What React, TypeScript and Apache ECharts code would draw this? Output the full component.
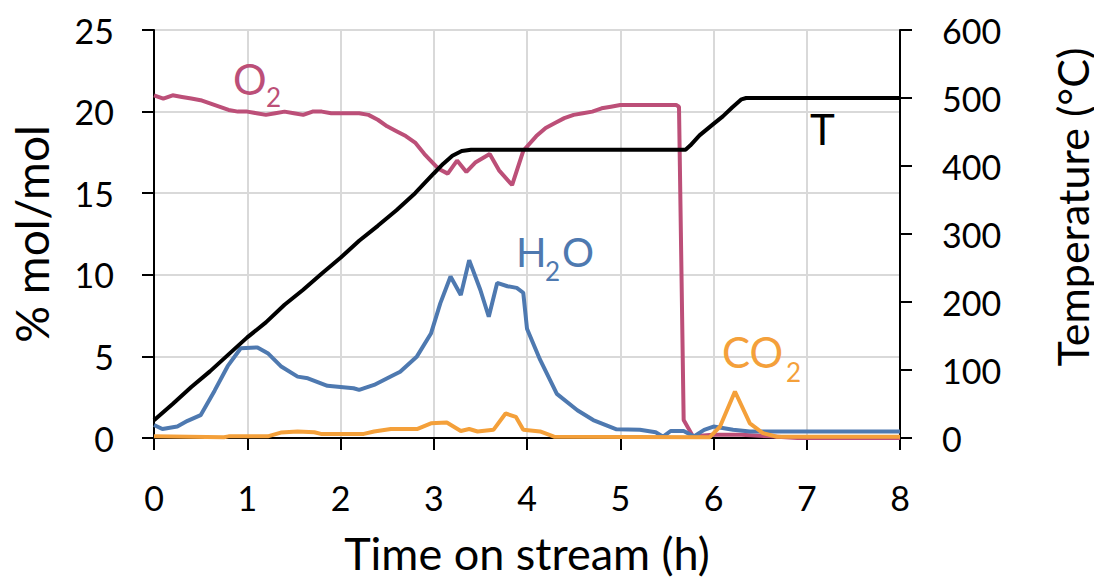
import React, { useEffect, useRef } from "react";
import * as echarts from "echarts";

// Time axis ticks (h)
const xTicks = [0, 1, 2, 3, 4, 5, 6, 7, 8];

// Temperature T (°C, right axis)
const tTemp = [0, 0.2, 0.4, 0.6, 0.8, 1.0, 1.2, 1.4, 1.6, 1.8, 2.0, 2.2, 2.4, 2.6, 2.8, 3.0, 3.1, 3.2, 3.3, 3.4, 5.7, 5.75, 5.85, 6.0, 6.1, 6.2, 6.3, 6.35, 8.0];
const tempVals = [26, 50, 75, 98, 123, 148, 170, 196, 218, 242, 265, 290, 312, 335, 360, 389, 403, 415, 422, 424, 424, 430, 445, 462, 473, 486, 498, 500, 500];

// O2 (% mol/mol)
const tO2 = [0, 0.1, 0.2, 0.3, 0.4, 0.5, 0.6, 0.7, 0.8, 0.9, 1.0, 1.1, 1.2, 1.3, 1.4, 1.5, 1.6, 1.7, 1.8, 1.9, 2.0, 2.1, 2.2, 2.3, 2.4, 2.5, 2.6, 2.7, 2.8, 2.9, 3.0, 3.05, 3.15, 3.25, 3.35, 3.45, 3.6, 3.7, 3.84, 3.96, 4.1, 4.2, 4.3, 4.4, 4.5, 4.6, 4.7, 4.8, 4.9, 5.0, 5.6, 5.63, 5.68, 5.78, 6.0, 6.3, 6.6, 6.9, 8.0];
const o2Vals = [21.0, 20.8, 21.0, 20.9, 20.8, 20.7, 20.5, 20.3, 20.1, 20.0, 20.0, 19.9, 19.8, 19.9, 20.0, 19.9, 19.8, 20.0, 20.0, 19.9, 19.9, 19.9, 19.9, 19.8, 19.5, 19.1, 18.8, 18.5, 18.1, 17.4, 16.8, 16.5, 16.2, 17.0, 16.3, 16.9, 17.4, 16.4, 15.5, 17.6, 18.5, 19.0, 19.3, 19.6, 19.8, 19.9, 20.0, 20.2, 20.3, 20.4, 20.4, 20.3, 1.1, 0.1, 0.2, 0.2, 0.1, 0, 0];

// H2O (% mol/mol)
const tH2O = [0, 0.09, 0.25, 0.36, 0.5, 0.65, 0.79, 0.93, 1.11, 1.22, 1.36, 1.54, 1.65, 1.86, 2.14, 2.2, 2.36, 2.57, 2.64, 2.82, 2.97, 3.07, 3.18, 3.29, 3.38, 3.5, 3.59, 3.68, 3.79, 3.89, 3.96, 4.0, 4.14, 4.32, 4.54, 4.71, 4.96, 5.21, 5.38, 5.46, 5.54, 5.68, 5.79, 5.9, 6.0, 6.21, 6.39, 8.0];
const h2oVals = [0.8, 0.55, 0.7, 1.05, 1.4, 2.9, 4.4, 5.5, 5.55, 5.2, 4.4, 3.76, 3.66, 3.2, 3.05, 2.95, 3.25, 3.86, 4.06, 5.0, 6.4, 8.25, 9.9, 8.76, 10.9, 9.07, 7.43, 9.5, 9.3, 9.2, 8.9, 6.7, 4.8, 2.7, 1.7, 1.1, 0.53, 0.5, 0.35, 0.08, 0.43, 0.43, 0.1, 0.5, 0.7, 0.5, 0.4, 0.4];

// CO2 (% mol/mol)
const tCO2 = [0, 0.75, 0.8, 1.22, 1.36, 1.54, 1.72, 1.79, 2.25, 2.36, 2.54, 2.82, 2.97, 3.14, 3.29, 3.38, 3.47, 3.64, 3.77, 3.88, 3.96, 4.14, 4.29, 5.96, 6.07, 6.23, 6.39, 6.53, 6.68, 8.0];
const co2Vals = [0.1, 0.05, 0.1, 0.1, 0.33, 0.4, 0.35, 0.25, 0.25, 0.4, 0.55, 0.55, 0.9, 0.95, 0.43, 0.55, 0.4, 0.5, 1.5, 1.3, 0.5, 0.4, 0.08, 0.05, 0.7, 2.85, 0.9, 0.3, 0.08, 0.08];

const FONT = "Lato";
const PINK = "#BC4F78";
const BLUE = "#4E79B0";
const ORANGE = "#F4A03A";

const zip = (xs: number[], ys: number[]) => xs.map((x, i) => [x, ys[i]]);

export default function App() {
  const ref = useRef<HTMLDivElement>(null);
  useEffect(() => {
    if (!ref.current) return;
    const chart = echarts.init(ref.current, undefined, { renderer: "svg" });
    const lbl = (text: string, x: number, y: number, size: number, color: string) => ({
      type: "text",
      x,
      y,
      style: { text, font: `${size}px ${FONT}`, fill: color, align: "left", verticalAlign: "middle" },
      z: 100,
    });
    chart.setOption({
      animation: false,
      backgroundColor: "#fff",
      grid: { left: 153, right: 202, top: 30, bottom: 148, containLabel: false },
      xAxis: {
        type: "value",
        min: xTicks[0],
        max: xTicks[xTicks.length - 1],
        interval: 1,
        name: "Time on stream (h)",
        nameLocation: "middle",
        nameGap: 92,
        nameTextStyle: { fontFamily: FONT, fontSize: 45, color: "#000" },
        axisLine: { onZero: false, lineStyle: { color: "#000", width: 2 } },
        axisTick: { show: true, length: 12, lineStyle: { color: "#000", width: 2 } },
        axisLabel: { margin: 42, fontFamily: FONT, fontSize: 34, color: "#000" },
        splitLine: { show: true, lineStyle: { color: "#D9D9D9", width: 2 } },
      },
      yAxis: [
        {
          type: "value",
          min: 0,
          max: 25,
          interval: 5,
          name: "% mol/mol",
          nameLocation: "middle",
          nameGap: 100,
          nameTextStyle: { fontFamily: FONT, fontSize: 46, color: "#000" },
          axisLine: { show: true, lineStyle: { color: "#000", width: 2 } },
          axisTick: { show: true, length: 12, lineStyle: { color: "#000", width: 2 } },
          axisLabel: { margin: 40, fontFamily: FONT, fontSize: 34, color: "#000" },
          splitLine: { show: true, lineStyle: { color: "#D9D9D9", width: 2 } },
        },
        {
          type: "value",
          position: "right",
          min: 0,
          max: 600,
          interval: 100,
          axisLine: { show: true, lineStyle: { color: "#000", width: 2 } },
          axisTick: { show: true, length: 12, lineStyle: { color: "#000", width: 2 } },
          axisLabel: { margin: 42, fontFamily: FONT, fontSize: 34, color: "#000" },
          splitLine: { show: false },
        },
      ],
      series: [
        {
          name: "O2",
          type: "line",
          data: zip(tO2, o2Vals),
          showSymbol: false,
          lineStyle: { color: PINK, width: 4 },
          itemStyle: { color: PINK },
        },
        {
          name: "H2O",
          type: "line",
          data: zip(tH2O, h2oVals),
          showSymbol: false,
          lineStyle: { color: BLUE, width: 4 },
          itemStyle: { color: BLUE },
        },
        {
          name: "CO2",
          type: "line",
          data: zip(tCO2, co2Vals),
          showSymbol: false,
          lineStyle: { color: ORANGE, width: 4 },
          itemStyle: { color: ORANGE },
        },
        {
          name: "T",
          type: "line",
          yAxisIndex: 1,
          data: zip(tTemp, tempVals),
          showSymbol: false,
          lineStyle: { color: "#000", width: 4 },
          itemStyle: { color: "#000" },
        },
      ],
      graphic: [
        lbl("O", 233, 79, 42, PINK),
        lbl("2", 266, 97, 26, PINK),
        lbl("H", 516, 252, 40, BLUE),
        lbl("2", 545, 271, 26, BLUE),
        lbl("O", 562, 252, 40, BLUE),
        lbl("CO", 722, 352, 42, ORANGE),
        lbl("2", 786, 372, 26, ORANGE),
        lbl("T", 810, 129, 42, "#000"),
        {
          type: "text",
          x: 1072,
          y: 207,
          rotation: Math.PI / 2,
          style: { text: "Temperature (°C)", font: `43px ${FONT}`, fill: "#000", align: "center", verticalAlign: "middle" },
        },
      ],
    });
    return () => chart.dispose();
  }, []);
  return <div ref={ref} style={{ width: 1102, height: 586, margin: -8 }} />;
}
